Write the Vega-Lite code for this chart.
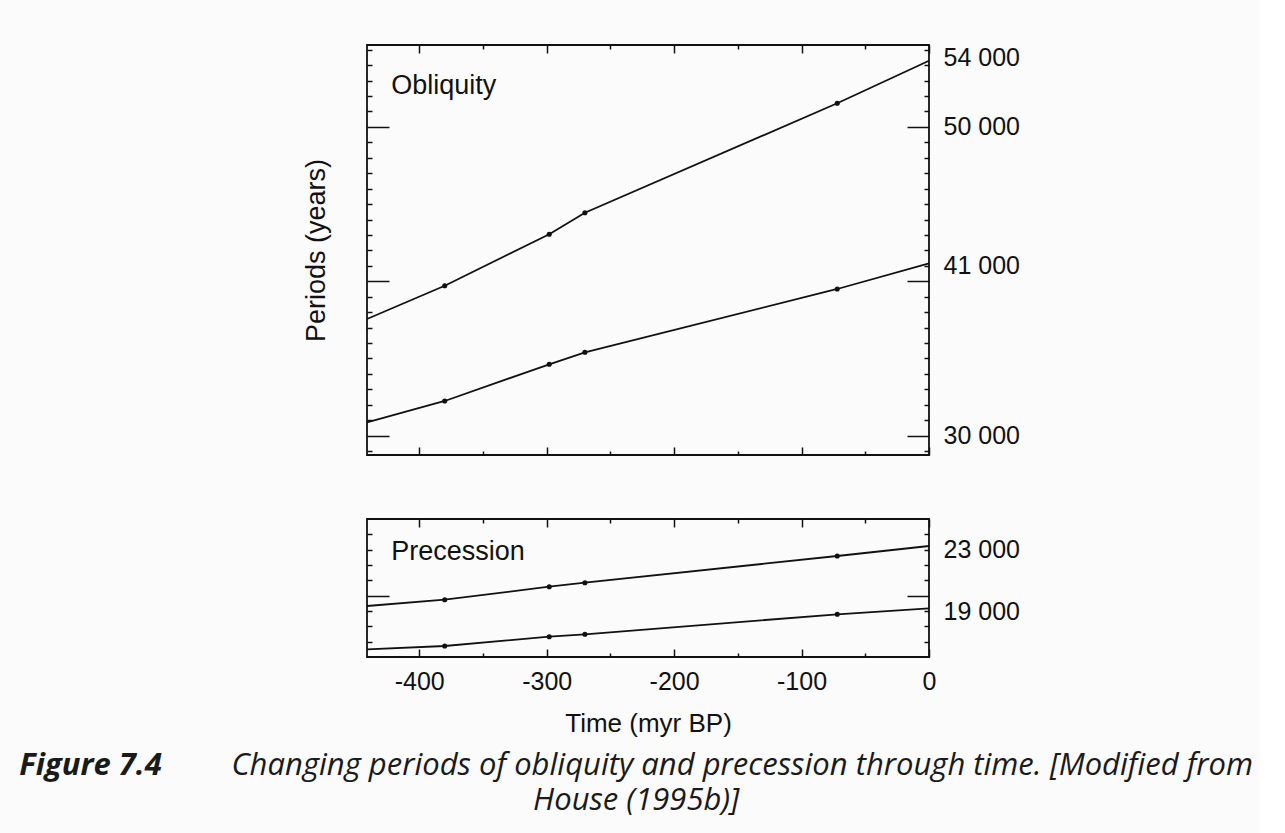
{
  "$schema": "https://vega.github.io/schema/vega-lite/v6.json",
  "background": "#fbfbfb",
  "padding": {"left": 18, "top": 36, "right": 5, "bottom": 40},
  "datasets": {
    "obl": [
      {"time": -441, "period": 37557, "cycle": "long"},
      {"time": -380, "period": 39713, "cycle": "long"},
      {"time": -298, "period": 43045, "cycle": "long"},
      {"time": -270, "period": 44441, "cycle": "long"},
      {"time": -72, "period": 51525, "cycle": "long"},
      {"time": 0, "period": 54283, "cycle": "long"},
      {"time": -441, "period": 30868, "cycle": "short"},
      {"time": -380, "period": 32248, "cycle": "short"},
      {"time": -298, "period": 34624, "cycle": "short"},
      {"time": -270, "period": 35401, "cycle": "short"},
      {"time": -72, "period": 39500, "cycle": "short"},
      {"time": 0, "period": 41164, "cycle": "short"}
    ],
    "pre": [
      {"time": -441, "period": 19326, "cycle": "long"},
      {"time": -380, "period": 19737, "cycle": "long"},
      {"time": -298, "period": 20585, "cycle": "long"},
      {"time": -270, "period": 20846, "cycle": "long"},
      {"time": -72, "period": 22587, "cycle": "long"},
      {"time": 0, "period": 23239, "cycle": "long"},
      {"time": -441, "period": 16502, "cycle": "short"},
      {"time": -380, "period": 16717, "cycle": "short"},
      {"time": -298, "period": 17324, "cycle": "short"},
      {"time": -270, "period": 17480, "cycle": "short"},
      {"time": -72, "period": 18785, "cycle": "short"},
      {"time": 0, "period": 19176, "cycle": "short"}
    ]
  },
  "title": {"text": "House (1995b)]", "orient": "bottom", "anchor": "middle", "offset": 4},
  "bounds": "flush",
  "spacing": 64,
  "vconcat": [
    {
      "width": 562,
      "height": 410,
      "title": {"text": "Figure 7.4", "orient": "bottom", "anchor": "start", "fontWeight": "bold", "dx": -283, "dy": 283},
      "data": {"name": "obl"},
      "layer": [
        {
          "mark": {"type": "line", "color": "#111", "strokeWidth": 1.8},
          "encoding": {
            "x": {"field": "time", "type": "quantitative", "scale": {"domain": [-441, 0], "nice": false, "zero": false},
              "axis": {"orient": "bottom", "values": [-400, -350, -300, -250, -200, -150, -100, -50, 0], "labels": false, "title": null,
                "tickSize": {"condition": {"test": "datum.value % 100 === 0", "value": -8}, "value": -4}}},
            "y": {"field": "period", "type": "quantitative", "scale": {"domain": [28750, 55300], "nice": false, "zero": false},
              "axis": {"orient": "left", "values": [29000, 30000, 31000, 32000, 33000, 34000, 35000, 36000, 37000, 38000, 39000, 40000, 41000, 42000, 43000, 44000, 45000, 46000, 47000, 48000, 49000, 50000, 51000, 52000, 53000, 54000, 55000],
                "labels": false, "title": "Periods (years)", "titleFontSize": 27, "titleFontWeight": "normal", "titlePadding": 36,
                "tickSize": {"condition": {"test": "datum.value % 10000 === 0", "value": -22}, "value": -5}}},
            "detail": {"field": "cycle"}
          }
        },
        {
          "transform": [{"filter": "datum.time > -441 && datum.time < 0"}],
          "mark": {"type": "point", "filled": true, "color": "#111", "size": 26, "opacity": 1},
          "encoding": {
            "x": {"field": "time", "type": "quantitative", "scale": {"domain": [-441, 0], "nice": false, "zero": false},
              "axis": {"orient": "top", "values": [-400, -350, -300, -250, -200, -150, -100, -50, 0], "labels": false, "title": null,
                "tickSize": {"condition": {"test": "datum.value % 100 === 0", "value": -8}, "value": -4}}},
            "y": {"field": "period", "type": "quantitative", "scale": {"domain": [28750, 55300], "nice": false, "zero": false},
              "axis": {"orient": "right", "values": [29000, 30000, 31000, 32000, 33000, 34000, 35000, 36000, 37000, 38000, 39000, 40000, 41000, 42000, 43000, 44000, 45000, 46000, 47000, 48000, 49000, 50000, 51000, 52000, 53000, 54000, 55000],
                "title": null, "labelFontSize": 25,
                "labelPadding": {"condition": {"test": "datum.value % 10000 === 0", "value": 36}, "value": 19},
                "labelExpr": "indexof([54000, 50000, 41000, 30000], datum.value) >= 0 ? replace(format(datum.value, ','), ',', ' ') : ''",
                "labelOffset": {"condition": {"test": "datum.value === 54000", "value": -8}, "value": 0},
                "tickSize": {"condition": {"test": "datum.value % 10000 === 0", "value": -22}, "value": -5}}}
          }
        },
        {
          "data": {"values": [{"label": "Obliquity"}]},
          "mark": {"type": "text", "align": "left", "baseline": "alphabetic", "font": "Liberation Sans", "fontSize": 27, "color": "#111"},
          "encoding": {
            "x": {"datum": -422, "type": "quantitative", "scale": {"domain": [-441, 0], "nice": false, "zero": false}, "axis": null},
            "y": {"datum": 52100, "type": "quantitative", "scale": {"domain": [28750, 55300], "nice": false, "zero": false}, "axis": null},
            "text": {"field": "label"}
          }
        }
      ],
      "resolve": {"scale": {"x": "independent", "y": "independent"}}
    },
    {
      "width": 562,
      "height": 138,
      "title": {"text": "Changing periods of obliquity and precession through time. [Modified from", "orient": "bottom", "anchor": "start", "dx": -132, "offset": 15, "fontSize": 31},
      "data": {"name": "pre"},
      "layer": [
        {
          "mark": {"type": "line", "color": "#111", "strokeWidth": 1.8},
          "encoding": {
            "x": {"field": "time", "type": "quantitative", "scale": {"domain": [-441, 0], "nice": false, "zero": false},
              "axis": {"orient": "bottom", "values": [-400, -350, -300, -250, -200, -150, -100, -50, 0],
                "labelExpr": "datum.value % 100 === 0 ? '' + datum.value : ''", "labelFontSize": 25, "labelPadding": 20,
                "title": "Time (myr BP)", "titleFontSize": 26, "titleFontWeight": "normal", "titlePadding": 12,
                "tickSize": {"condition": {"test": "datum.value % 100 === 0", "value": -8}, "value": -4}}},
            "y": {"field": "period", "type": "quantitative", "scale": {"domain": [16000, 25000], "nice": false, "zero": false},
              "axis": {"orient": "left", "values": [17000, 18000, 19000, 20000, 21000, 22000, 23000, 24000], "labels": false, "title": null,
                "tickSize": {"condition": {"test": "datum.value % 10000 === 0", "value": -22}, "value": -5}}},
            "detail": {"field": "cycle"}
          }
        },
        {
          "transform": [{"filter": "datum.time > -441 && datum.time < 0"}],
          "mark": {"type": "point", "filled": true, "color": "#111", "size": 26, "opacity": 1},
          "encoding": {
            "x": {"field": "time", "type": "quantitative", "scale": {"domain": [-441, 0], "nice": false, "zero": false},
              "axis": {"orient": "top", "values": [-400, -350, -300, -250, -200, -150, -100, -50, 0], "labels": false, "title": null,
                "tickSize": {"condition": {"test": "datum.value % 100 === 0", "value": -8}, "value": -4}}},
            "y": {"field": "period", "type": "quantitative", "scale": {"domain": [16000, 25000], "nice": false, "zero": false},
              "axis": {"orient": "right", "values": [17000, 18000, 19000, 20000, 21000, 22000, 23000, 24000], "title": null,
                "labelFontSize": 25,
                "labelPadding": {"condition": {"test": "datum.value % 10000 === 0", "value": 36}, "value": 19},
                "labelExpr": "indexof([23000, 19000], datum.value) >= 0 ? replace(format(datum.value, ','), ',', ' ') : ''",
                "tickSize": {"condition": {"test": "datum.value % 10000 === 0", "value": -22}, "value": -5}}}
          }
        },
        {
          "data": {"values": [{"label": "Precession"}]},
          "mark": {"type": "text", "align": "left", "baseline": "alphabetic", "font": "Liberation Sans", "fontSize": 27, "color": "#111"},
          "encoding": {
            "x": {"datum": -422, "type": "quantitative", "scale": {"domain": [-441, 0], "nice": false, "zero": false}, "axis": null},
            "y": {"datum": 22300, "type": "quantitative", "scale": {"domain": [16000, 25000], "nice": false, "zero": false}, "axis": null},
            "text": {"field": "label"}
          }
        }
      ],
      "resolve": {"scale": {"x": "independent", "y": "independent"}}
    }
  ],
  "config": {
    "view": {"stroke": "#111", "strokeWidth": 1.8},
    "axis": {"domain": false, "grid": false, "tickColor": "#111", "tickWidth": 1.5, "labelColor": "#111", "titleColor": "#111",
      "labelFont": "Liberation Sans", "titleFont": "Liberation Sans", "labelOverlap": false, "labelFlush": false},
    "title": {"font": "Open Sans", "fontStyle": "italic", "fontWeight": "normal", "fontSize": 31, "color": "#1a1a1a"}
  }
}
